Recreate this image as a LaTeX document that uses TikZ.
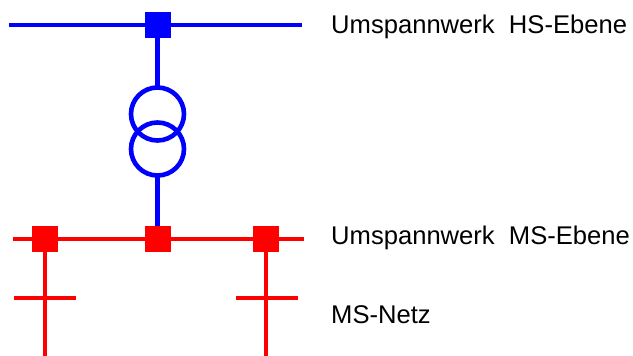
\documentclass[tikz,border=0pt]{standalone}
\usepackage{fontspec}
\setmainfont{Liberation Sans}
\begin{document}
\begin{tikzpicture}[x=1pt,y=-1pt,
  hs/.style={draw=blue, line width=4.6pt},
  ms/.style={draw=red, line width=4.4pt},
  busnode/.style={rectangle, minimum size=26pt, inner sep=0pt, outer sep=0pt},
  trafo/.style={circle, draw=blue, line width=4.6pt, minimum size=53pt, inner sep=0pt, outer sep=0pt},
  lbl/.style={anchor=base west, inner sep=0pt, font=\fontsize{25.6}{30}\selectfont}]
\useasboundingbox (0,0) rectangle (633,356);
% HS level
\coordinate (hsL) at (9,25);
\coordinate (hsR) at (302,25);
\node[busnode] (hsq) at (157.5,25) {};
\node[trafo] (t1) at (157.5,114) {};
\node[trafo] (t2) at (157.5,149) {};
% MS level
\coordinate (msL) at (13,239);
\coordinate (msR) at (304,239);
\node[busnode] (mq1) at (45,239) {};
\node[busnode] (mq2) at (157.5,239) {};
\node[busnode] (mq3) at (266,239) {};
\coordinate (f1end) at (45,356);
\coordinate (f2end) at (266,356);
\coordinate (b1L) at (14,298);
\coordinate (b1R) at (76,298);
\coordinate (b2L) at (236,298);
\coordinate (b2R) at (298,298);
% lines
\draw[hs] (hsL) -- (hsR);
\draw[hs] (hsq.center) -- (t1.north);
\draw[hs] (t2.south) -- (mq2.center);
\draw[ms] (msL) -- (msR);
\draw[ms] (mq1.center) -- (f1end);
\draw[ms] (mq3.center) -- (f2end);
\draw[ms] (b1L) -- (b1R);
\draw[ms] (b2L) -- (b2R);
% squares on top
\fill[blue] (hsq.south west) rectangle (hsq.north east);
\fill[red] (mq1.south west) rectangle (mq1.north east);
\fill[red] (mq2.south west) rectangle (mq2.north east);
\fill[red] (mq3.south west) rectangle (mq3.north east);
% labels
\node[lbl] (l1) at (331,34) {Umspannwerk\ \ HS-Ebene};
\node[lbl] (l2) at (331,244) {Umspannwerk\ \ MS-Ebene};
\node[lbl] (l3) at (331,323) {MS-Netz};
\end{tikzpicture}
\end{document}
